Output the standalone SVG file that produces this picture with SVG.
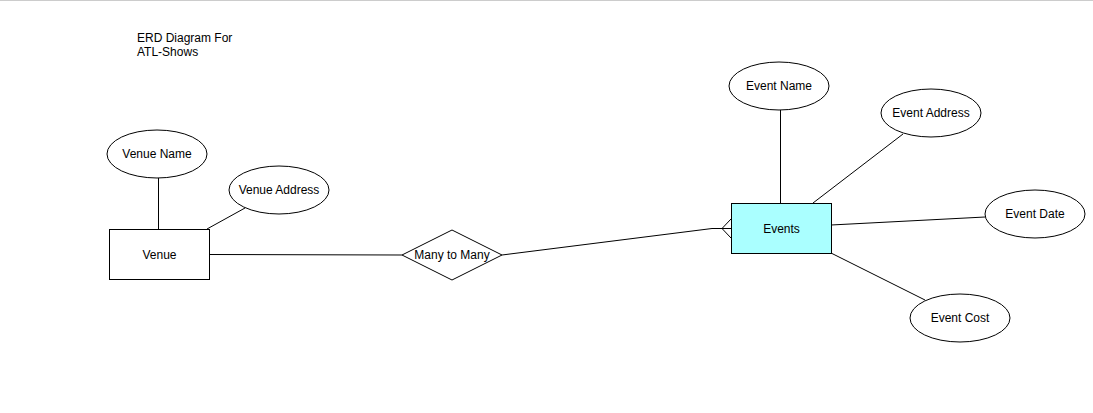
<svg xmlns="http://www.w3.org/2000/svg" width="1093" height="413" viewBox="0 0 1093 413">
<style>
text{font-family:"Liberation Sans",Arial,sans-serif;font-size:12px;fill:#000}
.attr{fill:#fff;stroke:#000;stroke-width:1}
.ent{stroke:#000;stroke-width:1}
.c{stroke:#000;stroke-width:1;fill:none}
</style>
<rect x="0" y="0" width="1093" height="413" fill="#fff"/>
<line x1="0" y1="0.5" x2="1093" y2="0.5" stroke="#ccc" stroke-width="1"/>
<g id="title">
<text x="137" y="42">ERD Diagram For</text>
<text x="137" y="56">ATL-Shows</text>
</g>
<g id="connectors">
<path class="c" d="M158.5 178V229"/>
<path class="c" d="M245 208L207 229"/>
<path class="c" d="M209 254.5L402 255"/>
<path class="c" d="M502 255L712 228.5H731"/>
<path class="c" d="M731 219L722 228.5L731 238"/>
<path class="c" d="M780.5 110V203"/>
<path class="c" d="M903 134L813 203"/>
<path class="c" d="M831 225L985 217"/>
<path class="c" d="M831 253L925 300"/>
</g>
<g id="venue-name"><ellipse class="attr" cx="157" cy="154" rx="50" ry="24"/><text x="157" y="158" text-anchor="middle">Venue Name</text></g>
<g id="venue-address"><ellipse class="attr" cx="279" cy="190" rx="50" ry="24"/><text x="279" y="194" text-anchor="middle">Venue Address</text></g>
<g id="venue"><rect class="ent" x="109.5" y="229.5" width="100" height="50" fill="#fff"/><text x="159.5" y="259" text-anchor="middle">Venue</text></g>
<g id="many-to-many"><polygon points="402,255 452,230 502,255 452,280" fill="#fff" stroke="#000"/><text x="452" y="259" text-anchor="middle">Many to Many</text></g>
<g id="events"><rect class="ent" x="731.5" y="203.5" width="100" height="50" fill="#aaffff"/><text x="781.5" y="233" text-anchor="middle">Events</text></g>
<g id="event-name"><ellipse class="attr" cx="779" cy="86" rx="50" ry="24"/><text x="779" y="90" text-anchor="middle">Event Name</text></g>
<g id="event-address"><ellipse class="attr" cx="931" cy="113" rx="50" ry="24"/><text x="931" y="117" text-anchor="middle">Event Address</text></g>
<g id="event-date"><ellipse class="attr" cx="1035" cy="214" rx="50" ry="24"/><text x="1035" y="218" text-anchor="middle">Event Date</text></g>
<g id="event-cost"><ellipse class="attr" cx="960" cy="318" rx="50" ry="24"/><text x="960" y="322" text-anchor="middle">Event Cost</text></g>
</svg>
